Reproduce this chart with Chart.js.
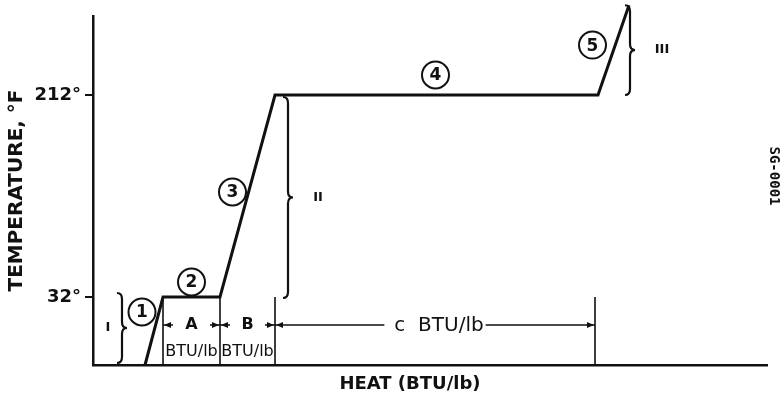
<!DOCTYPE html>
<html>
<head>
<meta charset="utf-8">
<script src="https://cdn.jsdelivr.net/npm/chart.js@4.4.1/dist/chart.umd.min.js"></script>
<style>
  html, body { margin: 0; padding: 0; background: #fff; }
  #wrap { width: 781px; height: 402px; position: relative; }
</style>
</head>
<body>
<div id="wrap"><canvas id="heatCurve"></canvas></div>
<script>
// heating curve of water (heat axis has no scale, units are arbitrary)
const heat = [26, 35, 63.5, 91, 252.5, 268];
const tempF = [-28.6, 32, 32, 212, 212, 292];
const dividers = [35, 63.5, 91, 251];   // extension lines under the plateaus
const tempTicks = [32, 212];
const stepLabels = ['1', '2', '3', '4', '5'];
const zoneLabels = ['A', 'B', 'c'];
const phaseLabels = ['I', 'II', 'III'];

const ink = '#111';

function arrowHead(ctx, x, y, dir) {
  // tip at x, dir -1 points left, +1 points right
  ctx.beginPath();
  ctx.moveTo(x, y);
  ctx.lineTo(x - dir * 7, y - 3);
  ctx.lineTo(x - dir * 7, y + 3);
  ctx.closePath();
  ctx.fill();
}

function brace(ctx, x, top, bottom, w) {
  // vertical curly brace, point to the right
  const r = 6, ym = (top + bottom) / 2;
  ctx.beginPath();
  ctx.moveTo(x - w / 2, top);
  ctx.quadraticCurveTo(x, top, x, top + r);
  ctx.lineTo(x, ym - r);
  ctx.quadraticCurveTo(x, ym, x + w / 2, ym);
  ctx.quadraticCurveTo(x, ym, x, ym + r);
  ctx.lineTo(x, bottom - r);
  ctx.quadraticCurveTo(x, bottom, x - w / 2, bottom);
  ctx.stroke();
}

const sketchPlugin = {
  id: 'sketch',
  afterDatasetsDraw(chart) {
    const { ctx, scales: { x, y } } = chart;
    const px = v => x.getPixelForValue(v);
    const py = v => y.getPixelForValue(v);
    ctx.save();
    ctx.strokeStyle = ink;
    ctx.fillStyle = ink;
    ctx.textAlign = 'center';
    ctx.textBaseline = 'middle';

    // circled step numbers next to each leg of the curve
    const offs = [[-12, -19], [0, -15], [-15, -4], [-1, -20], [-21, -5]];
    stepLabels.forEach((s, i) => {
      const cx = (px(heat[i]) + px(heat[i + 1])) / 2 + offs[i][0];
      const cy = (py(tempF[i]) + py(tempF[i + 1])) / 2 + offs[i][1];
      ctx.lineWidth = 2;
      ctx.beginPath();
      ctx.arc(cx, cy, 13.5, 0, Math.PI * 2);
      ctx.stroke();
      ctx.font = 'bold 17px "DejaVu Sans"';
      ctx.fillText(s, cx, cy + 1);
    });

    // braces for the three sensible-heat ranges
    const braces = [
      { at: 14.5, top: py(32) - 4, bottom: py(tempF[0]) - 2, lx: -14 },
      { at: 97.5, top: py(212) + 2, bottom: py(32) + 1, lx: 30 },
      { at: 268.5, top: py(tempF[5]), bottom: py(212), lx: 32 }
    ];
    ctx.lineWidth = 2.2;
    ctx.font = 'bold 13px "DejaVu Sans"';
    braces.forEach((b, i) => {
      const bx = px(b.at);
      brace(ctx, bx, b.top, b.bottom, 10);
      ctx.fillText(phaseLabels[i], bx + b.lx, (b.top + b.bottom) / 2);
    });

    // dimension lines for the latent / sensible heat zones
    const rowY = py(7);
    ctx.lineWidth = 1.5;
    zoneLabels.forEach((lab, i) => {
      const x0 = px(dividers[i]), x1 = px(dividers[i + 1]);
      const mid = (x0 + x1) / 2;
      arrowHead(ctx, x0 + 1, rowY, -1);
      arrowHead(ctx, x1 - 1, rowY, 1);
      if (i < 2) {
        ctx.beginPath();
        ctx.moveTo(x0, rowY); ctx.lineTo(x0 + 10, rowY);
        ctx.moveTo(x1, rowY); ctx.lineTo(x1 - 10, rowY);
        ctx.stroke();
        ctx.font = 'bold 16px "DejaVu Sans"';
        ctx.fillText(lab, mid, rowY);
        ctx.font = '16px "DejaVu Sans"';
        ctx.fillText('BTU/lb', mid, rowY + 27);
      } else {
        const txt = lab + '  BTU/lb';
        ctx.font = '20px "DejaVu Sans"';
        const tw = ctx.measureText(txt).width;
        const c = mid + 4;
        ctx.beginPath();
        ctx.moveTo(x0, rowY); ctx.lineTo(c - tw / 2 - 10, rowY);
        ctx.moveTo(c + tw / 2 + 2, rowY); ctx.lineTo(x1, rowY);
        ctx.stroke();
        ctx.fillText(txt, c, rowY + 1);
      }
    });

    // x axis title
    ctx.font = 'bold 18px "DejaVu Sans"';
    ctx.fillText('HEAT (BTU/lb)', 410, 384);

    // drawing number in the margin
    ctx.translate(774, 176);
    ctx.rotate(Math.PI / 2);
    ctx.font = 'bold 14px "DejaVu Sans Mono"';
    ctx.fillText('SG-0001', 0, 0);
    ctx.restore();
  }
};

const lineSets = [{
  data: heat.map((h, i) => ({ x: h, y: tempF[i] })),
  borderColor: ink,
  borderWidth: 3,
  pointRadius: 0,
  showLine: true,
  clip: false
}];
dividers.forEach(d => {
  lineSets.push({
    data: [{ x: d, y: 32 }, { x: d, y: tempF[0] }],
    borderColor: ink,
    borderWidth: 1.6,
    pointRadius: 0,
    showLine: true
  });
});

new Chart('heatCurve', {
  type: 'scatter',
  data: { datasets: lineSets },
  options: {
    responsive: true,
    maintainAspectRatio: false,
    animation: false,
    layout: { padding: { top: 16, right: 14, left: 0, bottom: 0 } },
    plugins: { legend: { display: false }, tooltip: { enabled: false } },
    scales: {
      x: {
        type: 'linear',
        min: 0,
        max: 337,
        ticks: { display: false },
        grid: { display: false },
        border: { display: true, color: ink, width: 2.5 },
        afterFit: s => { s.height = 37; }
      },
      y: {
        type: 'linear',
        min: -28.6,
        max: 282.4,
        afterBuildTicks: s => { s.ticks = tempTicks.map(v => ({ value: v })); },
        ticks: {
          callback: v => v + '°',
          color: ink,
          padding: 4,
          font: { family: 'DejaVu Sans', size: 18, weight: 'bold' }
        },
        grid: { drawOnChartArea: false, drawTicks: true, tickLength: 8, color: ink, lineWidth: 2 },
        border: { display: true, color: ink, width: 2.5 },
        title: {
          display: true,
          text: 'TEMPERATURE, °F',
          color: ink,
          padding: { top: 5, bottom: 0 },
          font: { family: 'DejaVu Sans', size: 20, weight: 'bold' }
        },
        afterFit: s => { s.width = 93; }
      }
    }
  },
  plugins: [sketchPlugin]
});
</script>
</body>
</html>
